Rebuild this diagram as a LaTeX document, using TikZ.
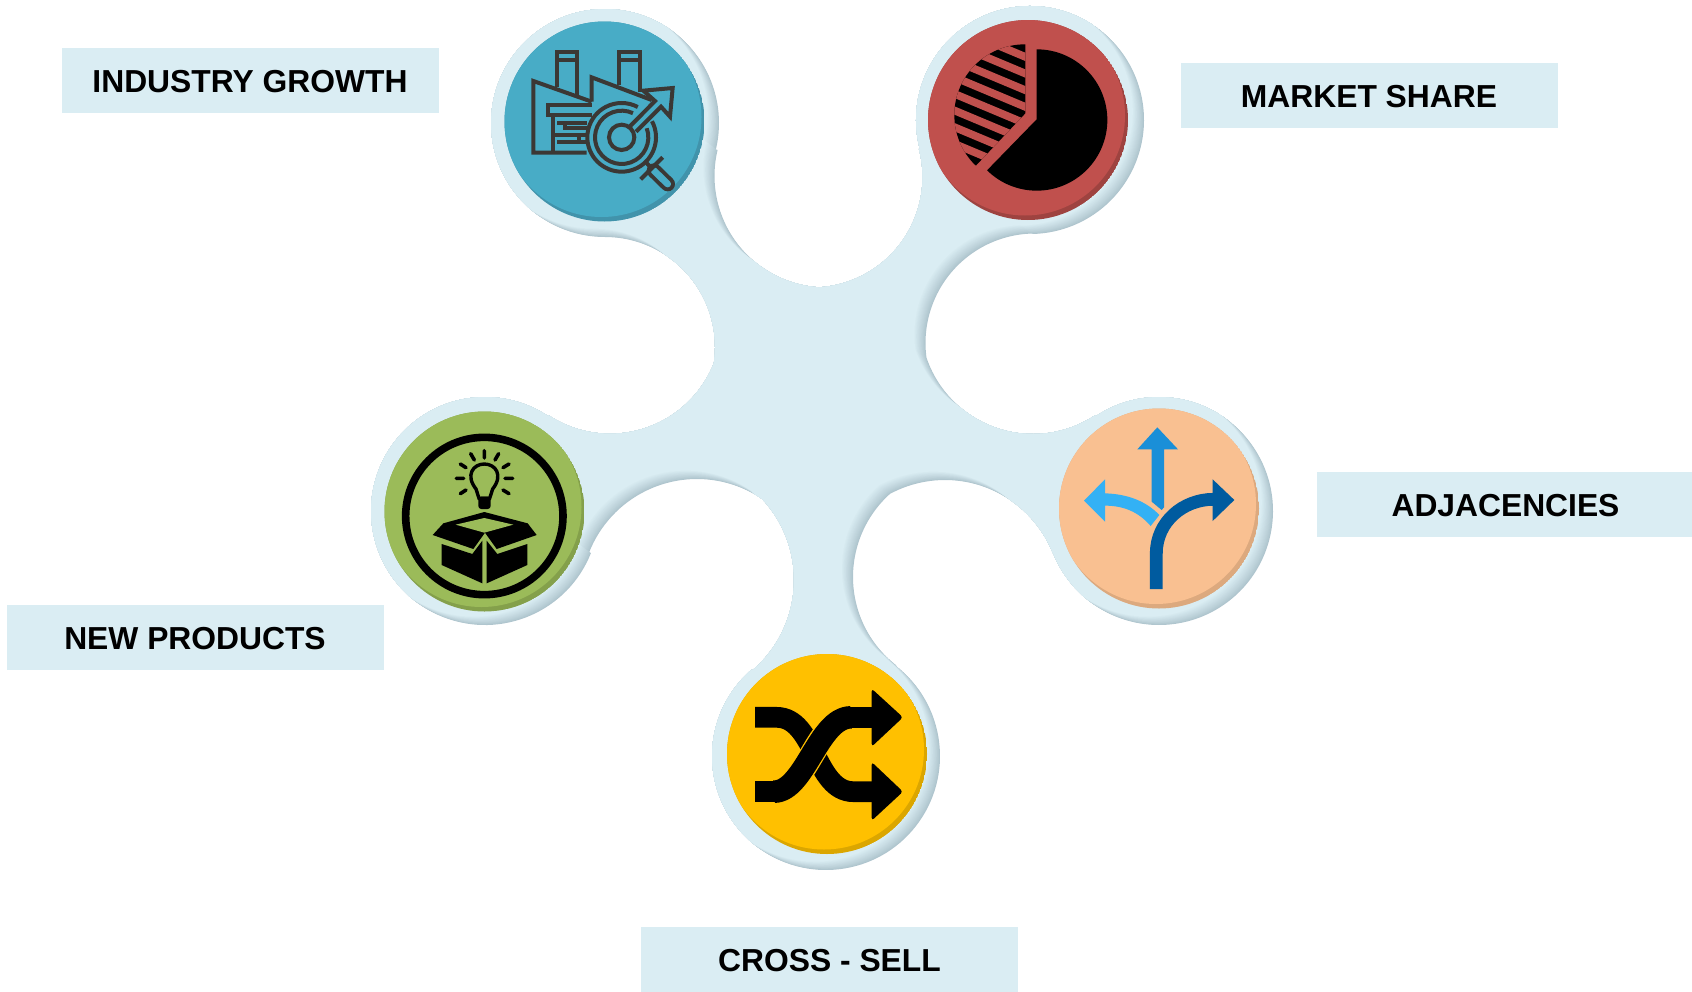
\documentclass[tikz,border=0pt]{standalone}
\usepackage{fontspec}
\setmainfont{Liberation Sans}
\definecolor{basec}{HTML}{DAEDF3}
\definecolor{shadc}{HTML}{AFC5CE}
\definecolor{blueL}{HTML}{48ACC6}\definecolor{blueD}{HTML}{4193AB}
\definecolor{redL}{HTML}{C0504D}\definecolor{redD}{HTML}{9E4340}
\definecolor{greenL}{HTML}{9BBB59}\definecolor{greenD}{HTML}{84A04B}
\definecolor{peachL}{HTML}{F9C091}\definecolor{peachD}{HTML}{DCA97E}
\definecolor{yelL}{HTML}{FFC000}\definecolor{yelD}{HTML}{DBA600}
\definecolor{icoI}{HTML}{3B3835}
\definecolor{arrUp}{HTML}{1A8FD8}\definecolor{arrLe}{HTML}{33B1F5}\definecolor{arrRi}{HTML}{005B9F}
\tikzset{
 blobp/.style={insert path={
  ([shift={(605,123)}]90:114) arc[start angle=90,end angle=373.5,radius=114]
  -- ([shift={(826,176)}]193.5:111.5) arc[start angle=193.5,end angle=94.1,radius=111.5]
  -- ([shift={(812,177)}]86.9:110.5) arc[start angle=86.9,end angle=-14.7,radius=110.5]
  -- ([shift={(1030,120)}]165.3:114) arc[start angle=165.3,end angle=448.7,radius=114]
  -- ([shift={(1035,343)}]268.7:109.5) arc[start angle=268.7,end angle=172,radius=109.5]
  -- ([shift={(1033,321.5)}]161:112.5) arc[start angle=161,end angle=56.4,radius=112.5]
  -- ([shift={(1159,511)}]236.4:114) arc[start angle=236.4,end angle=518.3,radius=114]
  -- ([shift={(945,596)}]-21.7:116) arc[start angle=-21.7,end angle=-118.1,radius=116]
  -- ([shift={(965,577)}]-131.8:112) arc[start angle=-131.8,end angle=-232.2,radius=112]
  -- ([shift={(826,756)}]-52.2:114) arc[start angle=-52.2,end angle=229.4,radius=114]
  -- ([shift={(675,580)}]49.4:119) arc[start angle=49.4,end angle=-43,radius=119]
  -- ([shift={(697,595)}]-56:116) arc[start angle=-56,end angle=-158.4,radius=116]
  -- ([shift={(485,511)}]21.6:114) arc[start angle=21.6,end angle=303.5,radius=114]
  -- ([shift={(610,322)}]123.5:111.7) arc[start angle=123.5,end angle=21.5,radius=111.7]
  -- ([shift={(605,347)}]8:110) arc[start angle=8,end angle=-90,radius=110]
  -- cycle}},
 lab/.style={fill=basec,minimum width=377pt,minimum height=65pt,inner sep=0pt,
   text height=24pt,text depth=0pt,
   font=\fontsize{31.8}{36}\selectfont\bfseries,text=black},
 zoomed/.style={shift={(#1)},scale=1/3},
}
\newcommand{\iconDisc}[4]{%
 \begin{scope}\clip (#1,#2) circle (100);
 \fill[#3] (#1,#2) circle (100);
 \fill[#4] (#1-3,#2-4.5) circle (100);\end{scope}}
\begin{document}
\begin{tikzpicture}[x=1pt,y=-1pt]
\useasboundingbox (0,0) rectangle (1692,991);
% blob with soft inner shadow
\begin{scope}
 \clip[blobp];
 \fill[shadc] (300,0) rectangle (1400,900);
 \foreach \d in {1,...,14}{
  \pgfmathtruncatemacro\m{min(100,100*(\d/14)^0.9)}
  \fill[basec!\m!shadc,shift={(-0.8*\d,-0.6*\d)},blobp];
 }
\end{scope}
% discs
\iconDisc{604.5}{121.5}{blueD}{blueL}
\iconDisc{1028}{120}{redD}{redL}
\iconDisc{484.5}{511.5}{greenD}{greenL}
\iconDisc{1159}{508.5}{peachD}{peachL}
\iconDisc{827}{754}{yelD}{yelL}
% labels
\node[lab] (ig) at (250,80) {INDUSTRY GROWTH};
\node[lab] (ms) at (1369,95) {MARKET SHARE};
\node[lab] (ad) at (1505.5,504) {ADJACENCIES};
\node[lab] (np) at (195,637) {NEW PRODUCTS};
\node[lab] (cs) at (829.5,959) {CROSS - SELL};
% icon: industry
\begin{scope}[zoomed={480,0},draw=icoI,line width=4pt,line join=miter]
 \draw (335,305) -- (160,243) -- (160,458) -- (320,458);
 \draw (335,305) -- (335,232) -- (515,300);
 \draw (230,262) -- (230,155) -- (292,155) -- (292,285);
 \draw (230,180) -- (292,180);
 \draw (417,255) -- (417,155) -- (480,155) -- (480,275);
 \draw (417,180) -- (480,180);
 \draw (335,315) -- (203,315) -- (203,345) -- (335,345);
 \draw (218,345) -- (218,458);
 \draw (232,368) -- (320,368);
 \draw (255,368) -- (255,385) -- (320,385);
 \draw (218,405) -- (320,405);
 \draw (232,425) -- (320,425);
 \draw (298,405) -- (298,425);
 \draw ([shift={(425,412)}]-28:103) arc[start angle=-28,end angle=298,radius=103];
 \draw ([shift={(425,412)}]-20:80) arc[start angle=-20,end angle=295,radius=80];
 \draw (425,412) circle (38);
 \draw (447,382) -- (525,303) -- (490,272) -- (578,264) -- (570,350) -- (543,320) -- (468,395);
 \draw[line width=14.7pt,line cap=round] (522,512) -- (563,552);
 \draw[blueL,line width=6.8pt,line cap=round] (522,512) -- (563,552);
 \draw (482,538) -- (548,472);
 \draw (498,487) -- (512,502);
\end{scope}
% icon: market share pie
\begin{scope}[zoomed={910,0}]
 \fill[black] (380,358) -- (380,148) arc[start angle=270,end angle=494.6,radius=212] -- cycle;
 \begin{scope}
  \clip (345,345) circle (212);
  \clip (346,100) -- (346,340) -- (190,505) -- (50,505) -- (50,100) -- cycle;
  \fill[black] (100,100) rectangle (360,560);
  \foreach \k in {-1,...,9}
   \draw[redL,line width=7.7pt] (100,{170.5+50*\k-103}) -- (360,{170.5+50*\k+6});
 \end{scope}
\end{scope}
% icon: new products
\begin{scope}[zoomed={365,390}]
 \draw[black,line width=7.6pt] (358,378) circle (236);
 \draw[black,line width=3.4pt] (333,297) .. controls (300,255) and (325,222) .. (358,222) .. controls (391,222) and (416,255) .. (383,297) -- (374,325) -- (342,325) -- cycle;
 \fill[black,rounded corners=3pt] (340,320) rectangle (377,357);
 \draw[black,line width=3.6pt,line cap=round]
  (274,265) -- (296,265) (420,265) -- (443,265)
  (286,222) -- (303,233) (414,233) -- (432,222)
  (286,311) -- (303,300) (414,300) -- (432,311)
  (317,191) -- (328,210) (401,191) -- (390,210)
  (358,182) -- (358,204);
 \fill[black] (235,400) -- (358,366) -- (488,400) -- (515,435) -- (395,477) -- (360,428) -- (325,477) -- (203,435) -- cycle;
 \fill[greenL] (358,384) -- (445,404) -- (358,428) -- (272,404) -- cycle;
 \fill[black] (230,462) -- (322,492) -- (352,452) -- (352,580) -- (230,525) -- cycle;
 \fill[black] (365,452) -- (397,492) -- (487,462) -- (487,525) -- (365,580) -- cycle;
\end{scope}
% icon: adjacencies
\begin{scope}[zoomed={1040,390}]
 \fill[arrUp] (352,112) -- (414,178) -- (372,178) -- (372,352) -- (365,360) -- (335,335) -- (335,178) -- (292,178) -- cycle;
 \fill[arrLe] (132,332) -- (195,268) -- (195,310) .. controls (265,312) and (320,335) .. (358,375) -- (332,408) .. controls (295,365) and (250,347) .. (195,347) -- (195,395) -- cycle;
 \draw[arrRi,line width=12.8pt] (349,597) -- (349,490) .. controls (349,395) and (430,328) .. (520,328);
 \fill[arrRi] (518,268) -- (583,330) -- (518,393) -- cycle;
\end{scope}
% icon: cross-sell
\begin{scope}[zoomed={700,640}]
 \draw[black,line width=20.7pt] (165,232) -- (230,232) .. controls (345,232) and (345,455) .. (460,455) -- (520,455);
 \draw[yelL,line width=25pt] (225,455) .. controls (315,455) and (355,232) .. (450,232);
 \draw[black,line width=20.7pt] (165,455) -- (225,455) -- (225,455) (450,232) -- (520,232);
 \draw[black,line width=22.5pt] (222,455) .. controls (315,455) and (355,232) .. (453,232);
 \fill[black,rounded corners=3pt] (515,146) -- (609,232) -- (515,320) -- cycle;
 \fill[black,rounded corners=3pt] (515,366) -- (609,455) -- (515,542) -- cycle;
\end{scope}
\end{tikzpicture}
\end{document}
